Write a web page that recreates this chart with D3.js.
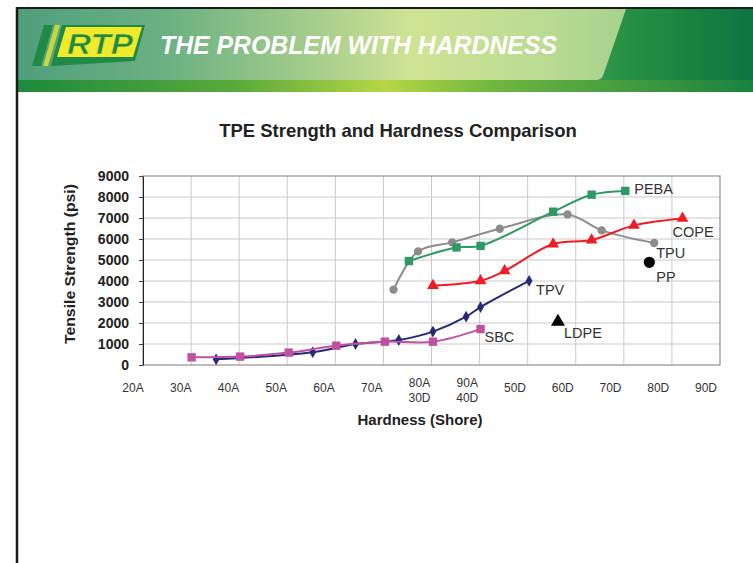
<!DOCTYPE html>
<html lang="en">
<head>
  <meta charset="UTF-8">
  <title>TPE Strength and Hardness Comparison</title>
  <style>
    body{ margin:0; background:#fff; }
    svg{ display:block; font-family:"Liberation Sans", Arial, sans-serif; }
    .grid line{ stroke:#c9c9c9; stroke-width:1px; }
    .series{ fill:none; stroke-width:2px; }
  </style>
</head>
<body>
  <script src="https://cdn.jsdelivr.net/npm/d3@7/dist/d3.min.js"></script>
  <script>
    const width = 753, height = 563;

    // hardness scale index: 2 = 20A ... 9 = 90A/40D, 10 = 50D ... 14 = 90D
    const hardnessTicks = [2, 3, 4, 5, 6, 7, 8, 9, 10, 11, 12, 13, 14];
    const hardnessLabels = [["20A"], ["30A"], ["40A"], ["50A"], ["60A"], ["70A"], ["80A", "30D"],
      ["90A", "40D"], ["50D"], ["60D"], ["70D"], ["80D"], ["90D"]];
    const strengthTicks = [0, 1000, 2000, 3000, 4000, 5000, 6000, 7000, 8000, 9000];

    const peba = [[7.53, 4950], [8.52, 5600], [9.02, 5670], [10.53, 7300], [11.33, 8110], [12.03, 8290]];
    const tpu = [[7.21, 3590], [7.72, 5410], [8.43, 5840], [9.42, 6490], [10.83, 7170], [11.54, 6410], [12.63, 5810]];
    const cope = [[8.03, 3780], [9.02, 4010], [9.52, 4480], [10.53, 5760], [11.33, 5950], [12.21, 6650], [13.22, 6980]];
    const tpv = [[3.52, 270], [5.53, 610], [6.42, 1000], [7.32, 1190], [8.03, 1590], [8.72, 2300], [9.02, 2760], [10.03, 4010]];
    const sbc = [[3.01, 365], [4.02, 400], [5.03, 590], [6.02, 920], [7.03, 1110], [8.03, 1110], [9.02, 1710]];
    const pp = [[12.53, 4890]];
    const ldpe = [[10.63, 2060]];

    const series = [
      {name: "TPU", data: tpu, color: "#8c8c8c", symbol: d3.symbolCircle, size: 55, lx: 2, ly: 10},
      {name: "PEBA", data: peba, color: "#2e9a63", symbol: d3.symbolSquare, size: 70, lx: 9, ly: -2},
      {name: "COPE", data: cope, color: "#ee1c25", symbol: d3.symbolTriangle, size: 60, lx: -10, ly: 14},
      {name: "TPV", data: tpv, color: "#262a7a", symbol: d3.symbolDiamond, size: 40, lx: 7, ly: 9},
      {name: "SBC", data: sbc, color: "#c050a0", symbol: d3.symbolSquare, size: 70, lx: 4, ly: 8},
      {name: "PP", data: pp, color: "#000", symbol: d3.symbolCircle, size: 100, lx: 7, ly: 15, noLine: true},
      {name: "LDPE", data: ldpe, color: "#000", symbol: d3.symbolTriangle, size: 85, lx: 6, ly: 11, noLine: true}
    ];

    const svg = d3.select('body').append('svg')
      .attr('width', width)
      .attr('height', height);

    // ---- header banner ----
    const defs = svg.append('defs');
    const g1 = defs.append('linearGradient').attr('id', 'bandBg');
    [[0, '#3f9a62'], [0.8, '#2a9648'], [0.9, '#1a8640'], [1, '#0e7444']].forEach(function(s){
      g1.append('stop').attr('offset', s[0]).attr('stop-color', s[1]);
    });
    const g2 = defs.append('linearGradient').attr('id', 'panelBg');
    [[0, '#4f9f7c'], [0.25, '#6cb182'], [0.5, '#a9cf8c'], [0.65, '#cfe394'], [0.85, '#bcdc92'], [1, '#a7d28f']].forEach(function(s){
      g2.append('stop').attr('offset', s[0]).attr('stop-color', s[1]);
    });
    const g3 = defs.append('linearGradient').attr('id', 'stripBg');
    [[0, '#1d8a3c'], [0.3, '#5aaa3c'], [0.5, '#b6d646'], [0.65, '#6fb63e'], [1, '#1a8240']].forEach(function(s){
      g3.append('stop').attr('offset', s[0]).attr('stop-color', s[1]);
    });

    svg.append('rect').attr('x', 17).attr('y', 8).attr('width', width - 17).attr('height', 84)
      .attr('fill', 'url(#bandBg)');
    svg.append('path')
      .attr('d', 'M17,9 L626,9 L603,76 Q601,80 596,80 L17,80 Z')
      .attr('fill', 'url(#panelBg)');
    svg.append('rect').attr('x', 17).attr('y', 80).attr('width', width - 17).attr('height', 12)
      .attr('fill', 'url(#stripBg)');
    svg.append('line').attr('x1', 16).attr('x2', width).attr('y1', 8).attr('y2', 8)
      .attr('stroke', '#1a1a1a').attr('stroke-width', 2);
    svg.append('line').attr('x1', 17).attr('x2', 17).attr('y1', 7).attr('y2', height)
      .attr('stroke', '#1a1a1a').attr('stroke-width', 2.5);

    // logo
    const logo = svg.append('g');
    logo.append('path').attr('d', 'M44,25 L53,25 L41,66 L32,66 Z').attr('fill', '#1f8a45');
    logo.append('path').attr('d', 'M55,25 L60,25 L48,66 L43,66 Z').attr('fill', '#c8d83a');
    logo.append('path').attr('d', 'M62,25 L145,25 L135,61 L51,66 Z').attr('fill', '#1f8a45');
    logo.append('path').attr('d', 'M66,27 L142,27 L133,57 L57,57 Z').attr('fill', '#f1ea2a');
    logo.append('text').attr('x', 67).attr('y', 54)
      .attr('font-size', 29).attr('font-weight', 'bold').attr('font-style', 'italic')
      .attr('fill', '#1f8a45').attr('stroke', '#f1ea2a').attr('stroke-width', 0.6)
      .attr('textLength', 66).attr('lengthAdjust', 'spacingAndGlyphs').text('RTP');
    svg.append('text').attr('x', 160).attr('y', 54)
      .attr('font-size', 25).attr('font-weight', 'bold').attr('font-style', 'italic')
      .attr('fill', '#fff').attr('textLength', 397).attr('lengthAdjust', 'spacingAndGlyphs')
      .text('THE PROBLEM WITH HARDNESS');

    // ---- chart ----
    const x = d3.scaleLinear().domain([2, 14]).range([143, 720]);
    const y = d3.scaleLinear().domain([0, 9000]).range([365, 176]);
    const labelX = d3.scaleLinear().domain([2, 14]).range([133, 706]);

    svg.append('text').attr('x', 398).attr('y', 137).attr('text-anchor', 'middle')
      .attr('font-size', 18.5).attr('font-weight', 'bold').attr('fill', '#222')
      .text('TPE Strength and Hardness Comparison');

    const grid = svg.append('g').attr('class', 'grid');
    grid.selectAll('line.v').data(hardnessTicks.slice(1, -1)).enter().append('line')
      .attr('class', 'v')
      .attr('x1', function(d){ return x(d); }).attr('x2', function(d){ return x(d); })
      .attr('y1', y(9000)).attr('y2', y(0));
    grid.selectAll('line.h').data(strengthTicks.slice(1, -1)).enter().append('line')
      .attr('class', 'h')
      .attr('x1', x(2)).attr('x2', x(14))
      .attr('y1', function(d){ return y(d); }).attr('y2', function(d){ return y(d); });

    svg.append('rect').attr('x', x(2)).attr('y', y(9000))
      .attr('width', x(14) - x(2)).attr('height', y(0) - y(9000))
      .attr('fill', 'none').attr('stroke', '#8f8f8f').attr('stroke-width', 1.2);

    const yAxis = svg.append('g').attr('transform', 'translate(' + x(2) + ',0)')
      .call(d3.axisLeft(y).tickValues(strengthTicks).tickFormat(d3.format('d'))
        .tickSize(4).tickSizeOuter(0).tickPadding(10));
    yAxis.select('.domain').attr('stroke', '#222');
    yAxis.selectAll('.tick line').attr('stroke', '#444');
    yAxis.selectAll('text').attr('font-size', 14).attr('font-weight', 'bold').attr('fill', '#222')
      .attr('font-family', '"Liberation Sans", Arial, sans-serif');

    const xl = svg.append('g').selectAll('text').data(hardnessTicks).enter().append('text')
      .attr('x', function(d){ return labelX(d); })
      .attr('y', 392)
      .attr('text-anchor', 'middle')
      .attr('font-size', 12).attr('fill', '#333');
    xl.each(function(d, i){
      const t = d3.select(this);
      hardnessLabels[i].forEach(function(s, k){
        t.append('tspan').attr('x', labelX(d)).attr('dy', k === 0 ? (hardnessLabels[i].length > 1 ? -5 : 0) : 15).text(s);
      });
    });

    svg.append('text').attr('x', 420).attr('y', 425).attr('text-anchor', 'middle')
      .attr('font-size', 15).attr('font-weight', 'bold').attr('fill', '#222')
      .text('Hardness (Shore)');
    svg.append('text').attr('transform', 'translate(75,264) rotate(-90)')
      .attr('text-anchor', 'middle')
      .attr('font-size', 15).attr('font-weight', 'bold').attr('fill', '#222')
      .attr('textLength', 160).attr('lengthAdjust', 'spacingAndGlyphs')
      .text('Tensile Strength (psi)');

    const line = d3.line()
      .x(function(d){ return x(d[0]); })
      .y(function(d){ return y(d[1]); })
      .curve(d3.curveCatmullRom.alpha(0.5));

    const sg = svg.selectAll('g.s').data(series).enter().append('g').attr('class', 's');
    sg.filter(function(d){ return !d.noLine; }).append('path')
      .attr('class', 'series')
      .attr('stroke', function(d){ return d.color; })
      .attr('d', function(d){ return line(d.data); });
    sg.each(function(s){
      d3.select(this).selectAll('path.m').data(s.data).enter().append('path')
        .attr('class', 'm')
        .attr('transform', function(d){ return 'translate(' + x(d[0]) + ',' + y(d[1]) + ')'; })
        .attr('d', d3.symbol().type(s.symbol).size(s.size))
        .attr('fill', s.color);
      const last = s.data[s.data.length - 1];
      d3.select(this).append('text')
        .attr('x', x(last[0]) + s.lx)
        .attr('y', y(last[1]) + s.ly)
        .attr('dy', '0.35em')
        .attr('font-size', 14.5).attr('fill', '#333')
        .text(s.name);
    });
  </script>
</body>
</html>
